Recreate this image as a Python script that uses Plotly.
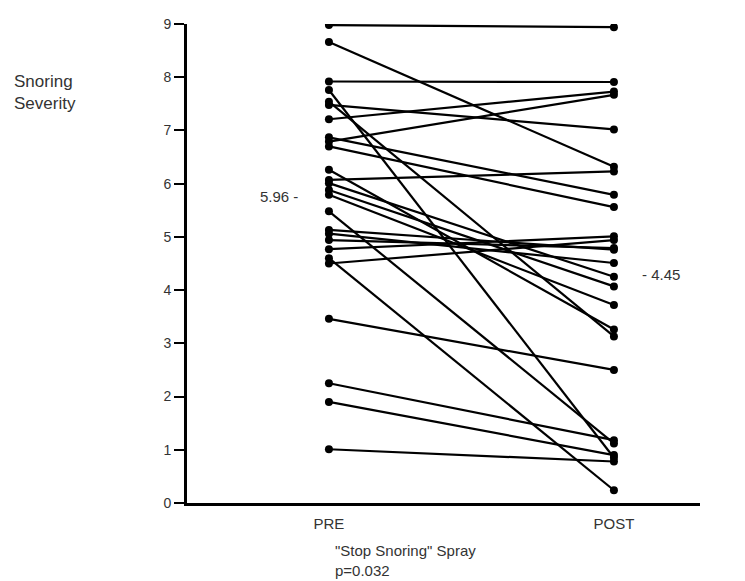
import plotly.graph_objects as go

# Data
pre_vals = [8.98, 8.66, 7.92, 7.76, 7.54, 7.48, 7.21, 6.87, 6.79, 6.70, 6.26, 6.07, 6.01,
            5.88, 5.79, 5.48, 5.13, 5.06, 4.94, 4.77, 4.60, 4.50, 3.46, 2.25, 1.90, 1.01]
post_vals = [8.94, 6.32, 7.91, 0.85, 3.13, 7.02, 7.73, 5.79, 7.67, 5.56, 3.26, 6.23, 4.25,
             4.07, 3.72, 1.12, 4.76, 4.51, 4.79, 5.01, 0.24, 4.94, 2.50, 1.18, 0.90, 0.78]
conditions = ["PRE", "POST"]
y_ticks = [0, 1, 2, 3, 4, 5, 6, 7, 8, 9]
pre_mean_label = "5.96 -"
post_mean_label = "- 4.45"
x_title = '"Stop Snoring" Spray'
p_text = "p=0.032"
y_title = "Snoring<br>Severity"

xs, ys = [], []
for a, b in zip(pre_vals, post_vals):
    xs += [0, 1, None]
    ys += [a, b, None]

fig = go.Figure()
fig.add_trace(go.Scatter(
    x=xs, y=ys, mode="lines+markers",
    line=dict(color="black", width=2.2),
    marker=dict(color="black", size=8),
    showlegend=False, hoverinfo="skip"))

font = "Liberation Sans, Arial, sans-serif"
txt = "#333333"

fig.update_layout(
    width=745, height=581,
    margin=dict(l=187, r=45, t=24, b=78),
    paper_bgcolor="white", plot_bgcolor="white",
    font=dict(family=font, color=txt, size=12),
    xaxis=dict(range=[-0.498, 1.302], tickvals=[0, 1], ticktext=conditions,
               showgrid=False, zeroline=False, showline=True, linecolor="black",
               linewidth=3, ticks="outside", ticklen=5, tickcolor="rgba(0,0,0,0)",
               tickfont=dict(size=15, color=txt, family=font)),
    yaxis=dict(range=[0, 9], tickvals=y_ticks, showgrid=False, zeroline=False,
               showline=True, linecolor="black", linewidth=3, ticks="outside",
               ticklen=10, tickwidth=2, tickcolor="black",
               tickfont=dict(size=14, color=txt, family=font)),
    annotations=[
        dict(text=y_title, x=-0.341, y=0.858, xref="paper", yref="paper",
             xanchor="left", yanchor="middle", align="left", showarrow=False,
             font=dict(size=17, color=txt, family=font)),
        dict(text=x_title, x=0.285, y=-0.100, xref="paper", yref="paper",
             xanchor="left", yanchor="middle", align="left", showarrow=False,
             font=dict(size=15, color=txt, family=font)),
        dict(text=p_text, x=0.285, y=-0.140, xref="paper", yref="paper",
             xanchor="left", yanchor="middle", align="left", showarrow=False,
             font=dict(size=15, color=txt, family=font)),
        dict(text=pre_mean_label, x=-0.10, y=5.76, xref="x", yref="y",
             xanchor="right", yanchor="middle", showarrow=False,
             font=dict(size=15, color=txt, family=font)),
        dict(text=post_mean_label, x=1.09, y=4.30, xref="x", yref="y",
             xanchor="left", yanchor="middle", showarrow=False,
             font=dict(size=15, color=txt, family=font)),
    ],
)

fig.write_html("out.html")
